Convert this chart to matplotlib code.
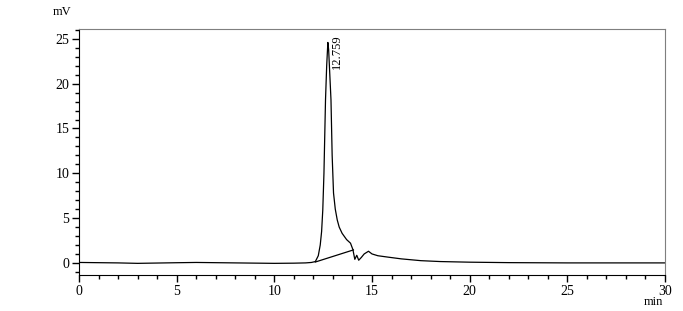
import matplotlib
matplotlib.use('Agg')
import matplotlib.pyplot as plt
from matplotlib.ticker import MultipleLocator

# chromatogram trace (time in min, signal in mV)
time_min = [0, 2, 3, 5, 6, 8, 10, 11, 11.6, 11.9, 12.1, 12.25, 12.35, 12.42,
            12.48, 12.54, 12.62, 12.68, 12.74, 12.78, 12.84, 12.90, 12.96,
            13.03, 13.12, 13.22, 13.32, 13.47, 13.7, 13.9, 14.02, 14.12,
            14.22, 14.32, 14.45, 14.6, 14.82, 15.0, 15.3, 15.8, 16.5, 17.5,
            18.5, 20, 22, 25, 30]
signal_mv = [0.05, 0.0, -0.05, 0.02, 0.05, 0.0, -0.05, -0.03, 0.0, 0.05,
             0.15, 0.8, 2.0, 3.5, 5.9, 10.0, 18.2, 22.0, 24.6, 23.8, 21.0,
             18.2, 12.0, 7.8, 6.0, 4.8, 4.0, 3.3, 2.6, 2.2, 1.5, 0.4, 0.85,
             0.3, 0.6, 1.0, 1.3, 1.0, 0.8, 0.65, 0.45, 0.25, 0.15, 0.08,
             0.03, 0.0, 0.0]

# integration baseline under the peak
base_t = [12.1, 14.05]
base_v = [0.1, 1.45]

peak_rt = 12.759
peak_label = "12.759"

plt.rcParams['font.family'] = ['Liberation Serif', 'DejaVu Serif']

fig = plt.figure(figsize=(6.83, 3.11), dpi=100)
ax = fig.add_axes([79 / 683, 1 - 275 / 311, 586 / 683, 246 / 311])

ax.plot(time_min, signal_mv, color='black', lw=0.9)
ax.plot(base_t, base_v, color='black', lw=0.9)
ax.text(peak_rt + 0.45, 21.6, peak_label, rotation=90, fontsize=9,
        ha='center', va='bottom')

ax.set_xlim(0, 30)
ax.set_ylim(-1.35, 26.1)
ax.xaxis.set_major_locator(MultipleLocator(5))
ax.xaxis.set_minor_locator(MultipleLocator(1))
ax.yaxis.set_major_locator(MultipleLocator(5))
ax.yaxis.set_minor_locator(MultipleLocator(1))
ax.tick_params(which='major', direction='out', length=5, width=1, labelsize=10, pad=2)
ax.tick_params(which='minor', direction='out', length=3, width=1)

for side in ['top', 'right']:
    ax.spines[side].set_color('#7f7f7f')
for side in ['left', 'bottom']:
    ax.spines[side].set_color('black')

fig.text(62 / 683, 1 - 12 / 311, "mV", fontsize=9, ha='center', va='center')
fig.text(653 / 683, 1 - 302 / 311, "min", fontsize=9, ha='center', va='center')

fig.savefig('out.png', dpi=100)
